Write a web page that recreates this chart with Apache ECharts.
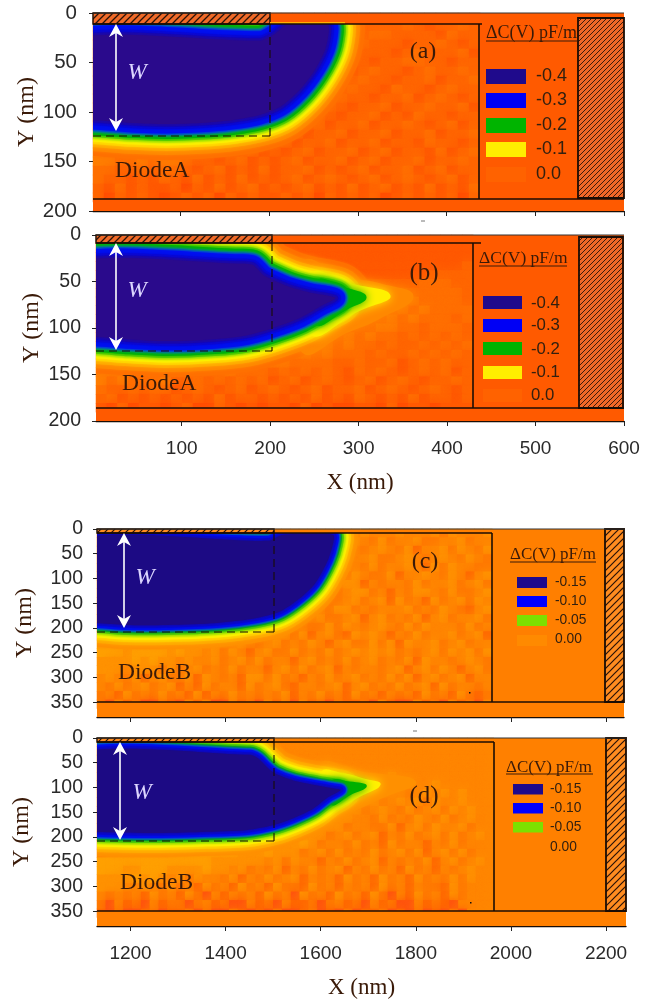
<!DOCTYPE html>
<html>
<head>
<meta charset="utf-8">
<style>html,body{margin:0;padding:0;background:#fff}#c{width:667px;height:1001px}</style>
<script src="https://cdn.jsdelivr.net/npm/echarts@6/dist/echarts.min.js"></script>
</head>
<body>
<div id="c"></div>
<script>
// ---------- tick values ----------
const xTicksA = [100, 200, 300, 400, 500, 600];
const yTicksA = [0, 50, 100, 150, 200];
const xTicksB = [1200, 1400, 1600, 1800, 2000, 2200];
const yTicksB = [0, 50, 100, 150, 200, 250, 300, 350];

// ---------- legend values ----------
const legendLabelsA = ['-0.4', '-0.3', '-0.2', '-0.1', '0.0'];
const legendColorsA = ['#1f0a8c', '#0000f5', '#00b400', '#ffee00', '#ff6200'];
const legendLabelsB = ['-0.15', '-0.10', '-0.05', '0.00'];
const legendColorsB = ['#1f0a8c', '#0000ff', '#7ce000', '#ff8a00'];

// ---------- mottled delta-C background, one digit per cell, read by eye ----------
const aRows = [
'33333333333333333333333333433334333',
'33333333333333333333333333334323343',
'33333333333333333333333334433332433',
'33333333333333333333333343332334323',
'33333333333333333333334433323433342',
'33333333333333333333344332334433233',
'33333333333333333333443234332343343',
'33333333333333333344432343323342334',
'33333333333333333544323433243323433',
'33333333333333355443234332334234323',
'33333333333335554432343233423343342',
'33333333333555544323432334232433233',
'33333333355555443233423342334323423',
'55555555555554433242334233423342334',
'66666666665544323423342334233243323',
'66556566554433423234233423423324234',
'55445455433234232342334234233423343',
'44334344323423242334232342334234233',
'43323243242324232342343234234323423',
'32423223132423423234232423423242324',
'31323212323132322323132323123232313'];
const bRows = [
'22222222222222222222222222222222222',
'22222222222222222222222222222222222',
'22222222222222222222222222222222222',
'22222222222222222222222222222222223',
'22222222222222222222222222222223333',
'33333333333333333333333333333344433',
'33333333333333333333333333334444443',
'33333333333333333333333333344544443',
'33333333333333333333333333445454444',
'33333333333333333333333334454544434',
'33333333333333333333333344554434443',
'33333333333333333333444545443434343',
'33333333333333334455554544343343434',
'66666666666666555555454443433434343',
'66666566665555545544443343342343433',
'55555545544454443434343243432343423',
'54544453343434342342343234234323343',
'43343442343234234323423342343234323',
'34232323232423323232423243232423323',
'21312212311321212213121122131221222'];
const cRows = [
'444444444444444444444444444444544454445354445',
'444444444444444444444444444445435344533445344',
'444444444444444444444444444454345435244535435',
'444444444444444444444444444534453345434543543',
'444444444444444444444444444454353445425354433',
'444444444444444444444444454535433524454354245',
'444444444444444444444444553455243443534453453',
'444444444444444444444455343345534243554353345',
'444444444444444444445534453345345253425345354',
'444444444444444444555345343553434445343543245',
'444444444444444455654353453345245343524534453',
'444444444444565654535344335354345435354443534',
'444444445666655453445535245325454243534453452',
'666666666666554454345343542453353525445345344',
'666566665655453542453353435345454534345354535',
'555565655454453453534424534353453435254434543',
'555455535345343534424535345243443452453542453',
'454352453352543425535342435345343535245345244',
'435345345242534425345324434524534353452534434',
'342534353425243534343524353425342434253425323',
'314231132142411423142414231322314211423142314'];
const dRows = [
'444444444444444444444444444444444444444444444',
'444444444444444444444444444444444444444444444',
'444444444444444444444444444444444444444444444',
'444444444444444444444444444444444444444444444',
'444444444444444444444444444444444544444444444',
'444444444444444444444444444444454445445444444',
'444444444444444444444444444444545443454545444',
'444444444444444444444444444445453454535445444',
'444444444444444444444444444455345435345354544',
'444444444444444444444444444554435343543534544',
'444444444444444444444444455534433524535445344',
'444444444444444444444445553453452435345353454',
'444444444444444444445556534435342534424353444',
'444444445666666655565553453534353453524535344',
'666666666666655555545354424353452434352453454',
'666556665555655453435243534524353425342434544',
'555565654535443524353452434253425342534353544',
'555445435342534253425332534243425342433253444',
'434342534253142434253415342534253142534253444',
'314231423313423114231422313423142311423214444',
'213112312231311321213112312131223121312131444'];

// ---------- contour of the deepest delta-C level, [X nm, Y nm] ----------
const aCore = [[-30,28],[190,28],[205,22],[220,12],[266,12],[267,20],[263,37],[251,58],[234,78],[212,95],[189,103],[159,108],[122,111],[84,112],[46,111],[2,108],[-30,108]];
const bCore = [[-30,31],[169,31],[181,32.5],[192,43],[200,47],[222,56],[245,62],[264,65],[274,68],[260,75],[234,89],[203,100],[173,108],[136,112],[83,114],[38,112],[3,109.5],[-30,109]];
const cCore = [[1080,24],[1490,24],[1520,12],[1626,12],[1626,29],[1615,63],[1588,110],[1556,140],[1514,167],[1465,180],[1381,190],[1276,194],[1192,194],[1130,190],[1080,190]];
const dCore = [[1080,34],[1451,34],[1468,41],[1486,58],[1504,72],[1542,86],[1592,96],[1627,102],[1642,105],[1615,120],[1584,143],[1542,162],[1500,176],[1445,186],[1347,190],[1241,192],[1130,190],[1080,190]];

// ---------- plume contours beyond the gate edge (panels b, d) ----------
const bPlumeGreen = [[250,50],[287,57],[309,67],[287,80],[250,96]];
const bPlumeYellow = [[245,42],[290,52],[336,65],[300,82],[245,107]];
const bPlumeOrange = [[235,30],[290,46],[324,52],[362,66],[324,90],[290,104],[235,125]];
const dPlumeGreen = [[1620,88],[1661,88],[1697,97],[1661,116],[1620,135]];
const dPlumeYellow = [[1600,70],[1650,72],[1690,82],[1726,94],[1680,120],[1640,142],[1600,160]];
const dPlumeOrange = [[1590,56],[1690,68],[1800,88],[1725,124],[1620,170],[1590,183]];

// ---------- colour scales ----------
const paletteA = ['#ff4400','#ff4e00','#ff5a00','#ff6600','#ff7000','#ff7e00','#ff9000','#ffa800'];
const paletteB = ['#ff3c14','#ff5510','#ff6a00','#ff7a00','#ff8600','#ff9200','#ffa000','#ffb400','#ffd000','#ffee00'];
const bandsA = [[36,'#ff7000'],[31,'#ff8800','orange'],[27,'#ffa800'],[24,'#ffd000'],[21.5,'#fff000','yellow'],[19,'#c8ec00'],[17,'#60d000'],[15,'#00b400','green'],[12.5,'#00a050'],[11,'#0060c0'],[9.5,'#0010f0'],[5,'#0808d8'],[2.5,'#1808b0'],[0,'#2a0a8c']];
const bandsB = [[24,'#ff9000','orange'],[20,'#ffa800'],[17,'#ffc800'],[14.5,'#fff000','yellow'],[12,'#c8ec00'],[10,'#60d000'],[8,'#00b000','green'],[6.5,'#0070b0'],[5,'#0010f0'],[2.5,'#0808d0'],[0,'#1c0a84']];

function hatchTile(size, bg, lw) {
  const cv = document.createElement('canvas');
  cv.width = cv.height = size;
  const g = cv.getContext('2d');
  g.fillStyle = bg; g.fillRect(0, 0, size, size);
  g.strokeStyle = '#2a1208'; g.lineWidth = lw;
  g.beginPath();
  g.moveTo(-1, size + 1); g.lineTo(size + 1, -1);
  g.moveTo(-1, 1); g.lineTo(1, -1);
  g.moveTo(size - 1, size + 1); g.lineTo(size + 1, size - 1);
  g.stroke();
  return cv;
}
const hatchA = hatchTile(5, '#f06828', 0.9);
const hatchStripA = hatchTile(7, '#f06a28', 1.3);
const hatchB = hatchTile(7, '#ff8c20', 1.2);

const panels = [
 {id:'(a)', left:93, right:624, top:13, bottom:211, xMin:1.35, xMax:600, yMax:200, xTicks:xTicksA, yTicks:yTicksA, nCols:48, nRows:22, rows:aRows, palette:paletteA, bands:bandsA, core:aCore, plumes:null, base:'#ff5a00', showX:false, nameGapY:54, labelGapY:16, tickFont:20.5,
  stripBottom:24, strip:'#ff5a00', hatchTile:hatchStripA, boxTop:24, boxRight:479, boxRightEnd:482, line:199, dashY:136, dashX:270, hatch:[578,18,46,180], hatchT:hatchA,
  tag:[423,52,24], diode:['DiodeA',115,171,23.5], W:[137,73], arrow:[116,24,131],
  lt:['ΔC(V) pF/m',486,33,18,41,92], sw:[486,40,[69,93,118,142,167],15], ll:[536,[76,100,125,149,174],18], labels:legendLabelsA, colors:legendColorsA},
 {id:'(b)', left:96, right:624, top:235, bottom:421, xMin:3.1, xMax:600, yMax:200, xTicks:xTicksA, yTicks:yTicksA, nCols:49, nRows:21, rows:bRows, palette:paletteA, bands:bandsA, core:bCore, plumes:{green:bPlumeGreen,yellow:bPlumeYellow,orange:bPlumeOrange}, base:'#ff5a00', showX:true, nameGapY:52, labelGapY:15, tickFont:19.5,
  stripBottom:243, strip:'#ff5a00', hatchTile:hatchStripA, boxTop:243, boxRight:473, boxRightEnd:481, line:408, dashY:351, dashX:272, hatch:[579,237,44,171], hatchT:hatchA,
  tag:[424,273,25], diode:['DiodeA',122,384,23.5], W:[137,291], arrow:[116,243,350],
  lt:['ΔC(V) pF/m',479,258,17.5,266,88], sw:[483,39,[296,319,342,366,389],13], ll:[531,[303,325,349,372,395],16.8], labels:legendLabelsA, colors:legendColorsA},
 {id:'(c)', left:97, right:624, top:529, bottom:717, xMin:1129.5, xMax:2238, yMax:380, xTicks:xTicksB, yTicks:yTicksB, nCols:60, nRows:22, rows:cRows, palette:paletteB, bands:bandsB, core:cCore, plumes:null, base:'#ff7f00', showX:false, nameGapY:60, labelGapY:14, tickFont:19.5,
  stripBottom:533, strip:'#ff8000', hatchTile:hatchB, boxTop:533, boxRight:492, boxRightEnd:492, line:702, dashY:632, dashX:274, hatch:[605,529,19,173], hatchT:hatchB,
  tag:[425,562,24], diode:['DiodeB',118,673,23.5], W:[145,578], arrow:[124,533,628],
  lt:['ΔC(V) pF/m',510,555,17,562,86], sw:[517,30,[577,596,615,635],11], ll:[555,[582,601,620,639],13.8], labels:legendLabelsB, colors:legendColorsB},
 {id:'(d)', left:97, right:626, top:738, bottom:926, xMin:1129.5, xMax:2242, yMax:380, xTicks:xTicksB, yTicks:yTicksB, nCols:60, nRows:22, rows:dRows, palette:paletteB, bands:bandsB, core:dCore, plumes:{green:dPlumeGreen,yellow:dPlumeYellow,orange:dPlumeOrange}, base:'#ff8000', showX:true, nameGapY:63, labelGapY:14, tickFont:19.5,
  stripBottom:742, strip:'#ff8000', hatchTile:hatchB, boxTop:742, boxRight:494, boxRightEnd:494, line:911, dashY:841, dashX:274, hatch:[606,738,20,173], hatchT:hatchB,
  tag:[424,796,25], diode:['DiodeB',120,883,23.5], W:[142,793], arrow:[120,742,840],
  lt:['ΔC(V) pF/m',506,768,17,774,87], sw:[513,30,[784,803,822],10.5], ll:[550,[789,808,827,847],13.8], labels:legendLabelsB, colors:legendColorsB}
];

const INK = '#1a0d05', TEXT = '#3a1a08', SANS = '"Liberation Sans",Arial,sans-serif', SERIF = '"Liberation Serif","Times New Roman",serif';
const grids = [], xAxes = [], yAxes = [], series = [], graphics = [];

function rect(x, y, w, h, fill, z, extra) {
  graphics.push(Object.assign({type:'rect', shape:{x, y, width:w, height:h}, style:{fill}, z:z||100, silent:true}, extra||{}));
}
function line(x1, y1, x2, y2, stroke, lw, dash, z) {
  graphics.push({type:'line', shape:{x1, y1, x2, y2}, style:{stroke, lineWidth:lw, lineDash:dash||null}, z:z||110, silent:true});
}
function label(text, x, y, font, size, fill, extra) {
  graphics.push({type:'text', x, y, z:120, silent:true, style:Object.assign({text, font:size + 'px ' + font, fill, textVerticalAlign:'middle', textAlign:'left'}, extra||{})});
}

panels.forEach(function (p, i) {
  const h = p.bottom - p.top, w = p.right - p.left;
  grids.push({left:p.left, top:p.top, width:w, height:h, show:true, backgroundColor:p.base, borderWidth:0, containLabel:false});
  xAxes.push({gridIndex:i, type:'value', min:p.xMin, max:p.xMax, position:'bottom', z:50,
    splitLine:{show:false}, axisLine:{show:true, onZero:false, lineStyle:{color:INK, width:1.4}},
    axisTick:{show:true, length:5, inside:false, customValues:p.xTicks, lineStyle:{color:'#222', width:1}},
    axisLabel:{show:p.showX, customValues:p.xTicks, formatter:function (v) { return String(v); }, margin:18, color:'#2a2a2a', fontFamily:SANS, fontSize:19},
    name:p.showX ? 'X (nm)' : '', nameLocation:'middle', nameGap:50, nameMoveOverlap:false, nameTextStyle:{fontFamily:SERIF, fontSize:23, color:TEXT}});
  yAxes.push({gridIndex:i, type:'value', min:0, max:p.yMax, inverse:true, position:'left', z:50,
    splitLine:{show:false}, axisLine:{show:false, onZero:false},
    axisTick:{show:true, length:4, inside:false, customValues:p.yTicks, lineStyle:{color:'#222', width:1}},
    axisLabel:{customValues:p.yTicks, margin:p.labelGapY, color:'#2a2a2a', fontFamily:SANS, fontSize:p.tickFont},
    name:'Y (nm)', nameLocation:'middle', nameGap:p.nameGapY, nameRotate:90, nameMoveOverlap:false, nameTextStyle:{fontFamily:SERIF, fontSize:24, color:TEXT}});
  const colCats = Array.from({length:p.nCols}, function (_, k) { return k; });
  const rowCats = Array.from({length:p.nRows}, function (_, k) { return k; });
  xAxes.push({gridIndex:i, type:'category', data:colCats, show:false, boundaryGap:true});
  yAxes.push({gridIndex:i, type:'category', data:rowCats, show:false, boundaryGap:true, inverse:true});
  const catX = 2 * i + 1, catY = 2 * i + 1, valX = 2 * i, valY = 2 * i;

  const cells = [];
  p.rows.forEach(function (row, r) {
    for (let c = 0; c < row.length; c++) {
      const v = +row[c], col = p.palette[v];
      const blur = (c > 0 && r > 0) ? 8 : 0;
      cells.push({value:[c, r, v], itemStyle:{color:col, shadowColor:col, shadowBlur:blur}});
    }
  });
  series.push({type:'heatmap', xAxisIndex:catX, yAxisIndex:catY, data:cells, silent:true, z:2, progressive:0, animation:false});

  series.push({type:'custom', xAxisIndex:valX, yAxisIndex:valY, clip:true, silent:true, z:3, animation:false,
    data:p.bands.map(function (b, k) { return [k]; }),
    renderItem:function (params, api) {
      const b = p.bands[params.dataIndex];
      const pts = p.core.map(function (q) { return api.coord(q); });
      const kids = [];
      if (b[2] && p.plumes && p.plumes[b[2]]) {
        kids.push({type:'polygon', shape:{points:p.plumes[b[2]].map(function (q) { return api.coord(q); }), smooth:0.5},
          style:{fill:b[1], shadowBlur:10, shadowColor:b[1]}});
      }
      kids.push({type:'polygon', shape:{points:pts, smooth:0.25},
        style:{fill:b[1], stroke:b[0] > 0 ? b[1] : null, lineWidth:2 * b[0], lineJoin:'round', shadowBlur:3, shadowColor:b[1]}});
      return {type:'group', children:kids};
    }
  });

  const gx = p.dashX;
  rect(gx, p.top, p.right - gx, p.stripBottom - p.top, p.strip, 100);
  rect(p.boxRight, p.top, p.right - p.boxRight, h, p.base, 101);
  rect(p.left, p.line, w, p.bottom - p.line, p.base, 102);
  rect(p.left, p.top, gx - p.left, p.stripBottom - p.top, {image:p.hatchTile, repeat:'repeat'}, 103,
       {style:{fill:{image:p.hatchTile, repeat:'repeat'}, stroke:INK, lineWidth:1.4}});
  rect(p.hatch[0], p.hatch[1], p.hatch[2], p.hatch[3], {image:p.hatchT, repeat:'repeat'}, 104,
       {style:{fill:{image:p.hatchT, repeat:'repeat'}, stroke:INK, lineWidth:1.8}});
  if (i === 0) rect(gx, p.stripBottom - 2, 75, 2, '#ffb000', 105);

  line(p.left, p.top, p.right, p.top, '#333', 1);
  line(p.left, p.stripBottom, p.boxRightEnd, p.stripBottom, INK, 1.6);
  line(p.boxRight, p.stripBottom, p.boxRight, p.line, INK, 1.6);
  line(p.left, p.line, p.right, p.line, INK, 1.6);
  line(p.left, p.dashY, gx, p.dashY, INK, 1.1, [8, 5]);
  line(gx, p.stripBottom, gx, p.dashY, INK, 1.1, [8, 5]);

  const ax = p.arrow[0], at = p.arrow[1], ab = p.arrow[2];
  line(ax, at + 6, ax, ab - 6, '#ffffff', 1.6, null, 115);
  graphics.push({type:'polygon', z:116, silent:true, shape:{points:[[ax, at], [ax + 7, at + 13], [ax, at + 9], [ax - 7, at + 13]]}, style:{fill:'#fff'}});
  graphics.push({type:'polygon', z:116, silent:true, shape:{points:[[ax, ab], [ax + 7, ab - 13], [ax, ab - 9], [ax - 7, ab - 13]]}, style:{fill:'#fff'}});
  label('W', p.W[0], p.W[1], SERIF, 23, '#dcd6ff', {font:'italic 23px ' + SERIF, textAlign:'center'});

  label(p.id, p.tag[0], p.tag[1], SERIF, p.tag[2], TEXT, {textAlign:'center'});
  label(p.diode[0], p.diode[1], p.diode[2], SERIF, p.diode[3], TEXT);
  label(p.lt[0], p.lt[1], p.lt[2], SERIF, p.lt[3], TEXT);
  line(p.lt[1], p.lt[4], p.lt[1] + p.lt[5], p.lt[4], TEXT, 1);

  p.sw[2].forEach(function (y, k) {
    rect(p.sw[0], y, p.sw[1], p.sw[3], p.colors[k], 112);
  });
  p.labels.forEach(function (t, k) {
    label(t, p.ll[0], p.ll[1][k], SANS, p.ll[2], '#33200f');
  });
});

line(421, 221, 425, 221, '#777', 1);
line(413, 731, 417, 731, '#777', 1);
rect(469, 692, 1.5, 1.5, '#111', 121);
rect(470, 902, 1.5, 1.5, '#111', 121);

const chart = echarts.init(document.getElementById('c'), null, {renderer:'canvas', width:667, height:1001});
chart.setOption({animation:false, backgroundColor:'#fff', grid:grids, xAxis:xAxes, yAxis:yAxes, series:series, graphic:{elements:graphics}});
</script>
</body>
</html>
